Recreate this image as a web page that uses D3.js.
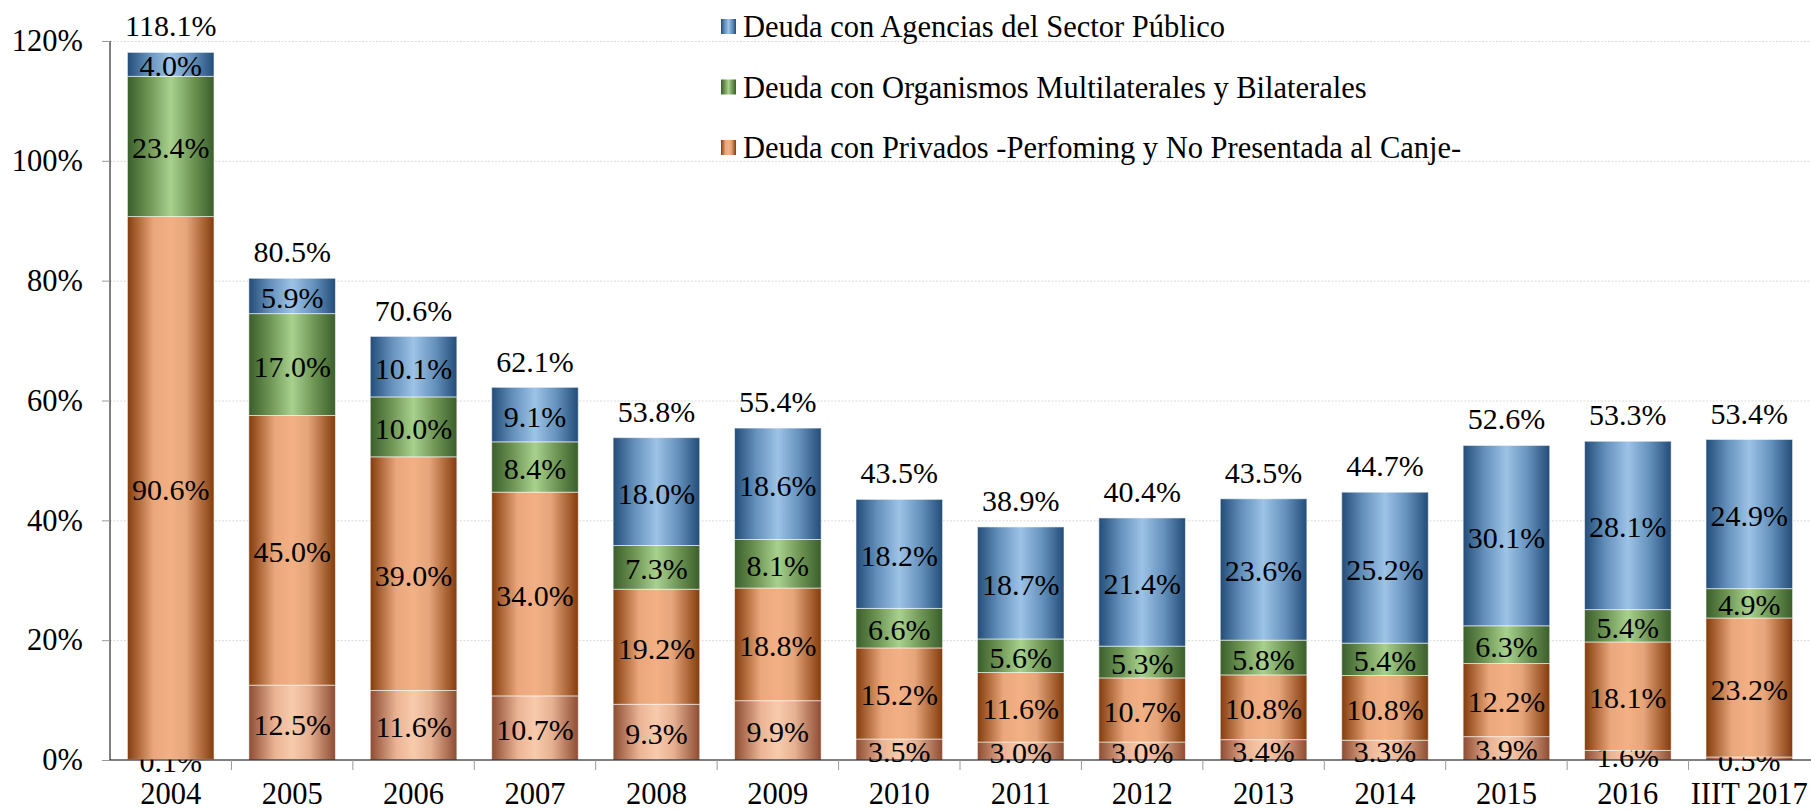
<!DOCTYPE html>
<html>
<head>
<meta charset="utf-8">
<script src="https://cdn.jsdelivr.net/npm/d3@7"></script>
<style>
  body { margin: 0; background: #fff; }
  text { font-family: "Liberation Serif", "Times New Roman", serif; fill: #000; }
</style>
</head>
<body>
<div id="chart"></div>
<script>
// categories and series (percent)
const categories = ["2004", "2005", "2006", "2007", "2008", "2009", "2010", "2011", "2012", "2013", "2014", "2015", "2016", "IIIT 2017"];
const noPresentada = [0.1, 12.5, 11.6, 10.7, 9.3, 9.9, 3.5, 3.0, 3.0, 3.4, 3.3, 3.9, 1.6, 0.5];
const privados = [90.6, 45.0, 39.0, 34.0, 19.2, 18.8, 15.2, 11.6, 10.7, 10.8, 10.8, 12.2, 18.1, 23.2];
const multilaterales = [23.4, 17.0, 10.0, 8.4, 7.3, 8.1, 6.6, 5.6, 5.3, 5.8, 5.4, 6.3, 5.4, 4.9];
const agencias = [4.0, 5.9, 10.1, 9.1, 18.0, 18.6, 18.2, 18.7, 21.4, 23.6, 25.2, 30.1, 28.1, 24.9];
const totales = [118.1, 80.5, 70.6, 62.1, 53.8, 55.4, 43.5, 38.9, 40.4, 43.5, 44.7, 52.6, 53.3, 53.4];
const yTicks = [0, 20, 40, 60, 80, 100, 120];

const legendItems = [
    {key: "agencias", label: "Deuda con Agencias del Sector Público"},
    {key: "multilaterales", label: "Deuda con Organismos Multilaterales y Bilaterales"},
    {key: "privados", label: "Deuda con Privados -Perfoming y No Presentada al Canje-"}
];

const width = 1811, height = 811;
const labelSize = 30;   // bar labels
const axisSize = 30.5;  // axis + legend

const svg = d3.select("#chart").append("svg")
    .attr("width", width)
    .attr("height", height);

// horizontal gradients: dark edges, light middle
const gradients = {
    noPresentada: [[0, "#8d4c33"], [0.3, "#eab394"], [0.5, "#f8cbad"], [0.7, "#e6b092"], [1, "#8d4c33"]],
    privados: [[0, "#843c0c"], [0.3, "#eaa77b"], [0.5, "#f2b084"], [0.68, "#e6a57a"], [1, "#843c0c"]],
    multilaterales: [[0, "#3b5e2b"], [0.25, "#6f9655"], [0.5, "#a9d18e"], [0.75, "#6f9655"], [1, "#3b5e2b"]],
    agencias: [[0, "#234d78"], [0.25, "#6591bd"], [0.5, "#9dc3e6"], [0.75, "#6591bd"], [1, "#234d78"]]
};
const defs = svg.append("defs");
Object.entries(gradients).forEach(([key, stops]) => {
    const g = defs.append("linearGradient")
        .attr("id", "grad-" + key)
        .attr("x1", 0).attr("x2", 1).attr("y1", 0).attr("y2", 0);
    stops.forEach(s => g.append("stop").attr("offset", s[0]).attr("stop-color", s[1]));
});

const x = d3.scaleBand()
    .domain(categories)
    .range([110, 1810])
    .paddingInner(0.287)
    .paddingOuter(0.1435);

const y = d3.scaleLinear()
    .domain([0, 120])
    .range([760, 41]);

// gridlines
svg.append("g")
    .attr("transform", "translate(110,0)")
    .call(d3.axisLeft(y).tickValues(yTicks.slice(1)).tickSize(-(width - 110)).tickFormat(""))
    .call(g => g.select(".domain").remove())
    .call(g => g.selectAll("line")
        .attr("stroke", "#dadada")
        .attr("stroke-dasharray", "2,1.5"));

// y axis
svg.append("g")
    .attr("transform", "translate(110,0)")
    .call(d3.axisLeft(y).tickValues(yTicks).tickSize(8).tickPadding(19).tickFormat(d => d + "%"))
    .call(g => g.select(".domain").attr("stroke", "#000").attr("d", "M0," + y(120) + "V" + y(0)))
    .call(g => g.selectAll(".tick line").attr("stroke", "#999"))
    .call(g => g.selectAll("text")
        .style("font-family", '"Liberation Serif", serif')
        .style("font-size", axisSize + "px")
        .attr("fill", "#000"));

// stacked bars
const data = categories.map((c, i) => ({
    cat: c,
    noPresentada: noPresentada[i],
    privados: privados[i],
    multilaterales: multilaterales[i],
    agencias: agencias[i],
    total: totales[i]
}));
const keys = ["noPresentada", "privados", "multilaterales", "agencias"];
const series = d3.stack().keys(keys)(data);

const layer = svg.append("g").selectAll("g")
    .data(series)
    .join("g")
    .attr("fill", s => "url(#grad-" + s.key + ")");

layer.selectAll("rect")
    .data(s => s)
    .join("rect")
    .attr("x", d => x(d.data.cat))
    .attr("width", x.bandwidth())
    .attr("y", d => y(d[1]))
    .attr("height", d => y(d[0]) - y(d[1]))
    .attr("stroke", "rgba(255,255,255,0.55)")
    .attr("stroke-width", 1);

// x axis
const xAxis = svg.append("g")
    .attr("transform", "translate(0,760)")
    .call(d3.axisBottom(x).tickSize(0).tickPadding(22))
    .call(g => g.select(".domain").attr("stroke", "#000").attr("d", "M110,0H" + width))
    .call(g => g.selectAll("text")
        .style("font-family", '"Liberation Serif", serif')
        .style("font-size", axisSize + "px")
        .attr("fill", "#000"));

const half = x.step() * x.paddingInner() / 2;
xAxis.selectAll(".sep")
    .data(categories.slice(1))
    .join("line")
    .attr("class", "sep")
    .attr("x1", d => x(d) - half)
    .attr("x2", d => x(d) - half)
    .attr("y1", 0)
    .attr("y2", 10)
    .attr("stroke", "#999");

// segment labels
layer.selectAll("text")
    .data(s => s)
    .join("text")
    .attr("x", d => x(d.data.cat) + x.bandwidth() / 2)
    .attr("y", d => (y(d[0]) + y(d[1])) / 2)
    .attr("dy", "0.4em")
    .attr("text-anchor", "middle")
    .attr("fill", "#000")
    .style("font-size", labelSize + "px")
    .text(function(d) {
        const key = d3.select(this.parentNode).datum().key;
        return d.data[key].toFixed(1) + "%";
    });

// totals
svg.append("g").selectAll("text")
    .data(data)
    .join("text")
    .attr("x", d => x(d.cat) + x.bandwidth() / 2)
    .attr("y", d => y(d.total) - 16)
    .attr("text-anchor", "middle")
    .style("font-size", labelSize + "px")
    .text(d => d.total.toFixed(1) + "%");

// legend
const legend = svg.append("g").attr("transform", "translate(721,0)");
const row = legend.selectAll("g")
    .data(legendItems)
    .join("g")
    .attr("transform", (d, i) => "translate(0," + (37 + i * 60.5) + ")");
row.append("rect")
    .attr("x", 0)
    .attr("y", -18)
    .attr("width", 15)
    .attr("height", 15)
    .attr("fill", d => "url(#grad-" + d.key + ")");
row.append("text")
    .attr("x", 22)
    .attr("y", 0)
    .style("font-size", axisSize + "px")
    .text(d => d.label);
</script>
</body>
</html>
